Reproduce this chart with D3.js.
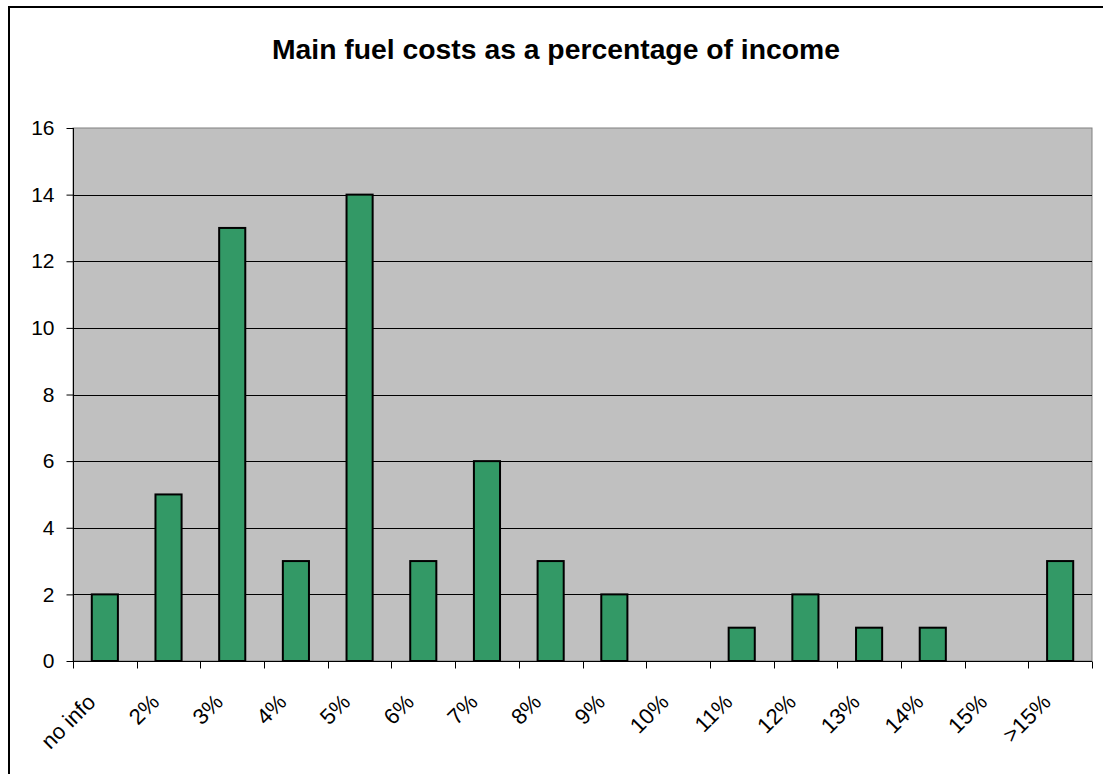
<!DOCTYPE html>
<html>
<head>
<meta charset="utf-8">
<script src="https://cdn.jsdelivr.net/npm/d3@7"></script>
<style>
  html, body { margin: 0; padding: 0; background: #fff; }
  svg { display: block; }
</style>
</head>
<body>
<script>
// Share of households by main fuel cost as percentage of income
const categories = ["no info", "2%", "3%", "4%", "5%", "6%", "7%", "8%", "9%", "10%", "11%", "12%", "13%", "14%", "15%", ">15%"];
const counts = [2, 5, 13, 3, 14, 3, 6, 3, 2, 0, 1, 2, 1, 1, 0, 3];
const yTicks = [0, 2, 4, 6, 8, 10, 12, 14, 16];
const title = "Main fuel costs as a percentage of income";

const W = 1103, H = 774;
const plot = { left: 73, right: 1092, top: 128, bottom: 661 };
const FONT = "Arial, 'Liberation Sans', sans-serif";

const svg = d3.select("body").append("svg")
  .attr("width", W).attr("height", H)
  .style("font-family", FONT);

// outer chart frame
svg.append("rect")
  .attr("x", 9).attr("y", 7)
  .attr("width", W + 20).attr("height", H + 20)
  .attr("fill", "#fff").attr("stroke", "#000").attr("stroke-width", 2);

svg.append("text")
  .attr("x", 556).attr("y", 59)
  .attr("text-anchor", "middle")
  .attr("font-size", 28).attr("font-weight", "bold")
  .attr("textLength", 568).attr("lengthAdjust", "spacingAndGlyphs")
  .text(title);

const x = d3.scaleBand().domain(categories).range([plot.left, plot.right]).paddingInner(0).paddingOuter(0);
const y = d3.scaleLinear().domain([0, 16]).range([plot.bottom, plot.top]);

// plot background
svg.append("rect")
  .attr("x", plot.left).attr("y", plot.top)
  .attr("width", plot.right - plot.left).attr("height", plot.bottom - plot.top)
  .attr("fill", "#c0c0c0")
  .attr("stroke", "#808080").attr("stroke-width", 1);

// horizontal gridlines
svg.append("g").selectAll("line")
  .data(yTicks.filter(d => d > 0 && d < 16))
  .join("line")
  .attr("x1", plot.left).attr("x2", plot.right)
  .attr("y1", d => Math.round(y(d)) + 0.5).attr("y2", d => Math.round(y(d)) + 0.5)
  .attr("stroke", "#000").attr("stroke-width", 1);

// bars
const barW = x.bandwidth() * 0.41;
svg.append("g").selectAll("rect")
  .data(categories.map((c, i) => ({ c, v: counts[i] })).filter(d => d.v > 0))
  .join("rect")
  .attr("x", d => x(d.c) + (x.bandwidth() - barW) / 2)
  .attr("y", d => y(d.v))
  .attr("width", barW)
  .attr("height", d => y(0) - y(d.v))
  .attr("fill", "#339966")
  .attr("stroke", "#000").attr("stroke-width", 2);

// y axis
const yAxis = d3.axisLeft(y).tickValues(yTicks).tickSize(7).tickPadding(12).tickFormat(d3.format("d"));
const gy = svg.append("g").attr("transform", `translate(${plot.left + 0.5},0)`).call(yAxis);
gy.attr("font-size", 21).attr("font-family", FONT);
gy.select(".domain").attr("stroke", "#000").attr("d", `M0,${plot.top}V${plot.bottom}`);
gy.selectAll(".tick line").attr("stroke", "#000");
gy.selectAll(".tick text").attr("fill", "#000");

// x axis with ticks at category boundaries
const gx = svg.append("g").attr("transform", `translate(0,${plot.bottom + 0.5})`);
gx.append("line").attr("x1", plot.left).attr("x2", plot.right).attr("stroke", "#000");
const bounds = categories.map(c => x(c)).concat([plot.right]);
gx.selectAll("line.tk").data(bounds).join("line").attr("class", "tk")
  .attr("x1", d => Math.round(d) + 0.5).attr("x2", d => Math.round(d) + 0.5)
  .attr("y1", 0).attr("y2", 7).attr("stroke", "#000");

gx.selectAll("text").data(categories).join("text")
  .attr("transform", d => `translate(${x(d) + x.bandwidth() / 2 - 8},${703 - plot.bottom}) rotate(-45)`)
  .attr("text-anchor", "end")
  .attr("font-size", 22)
  .text(d => d);
</script>
</body>
</html>
